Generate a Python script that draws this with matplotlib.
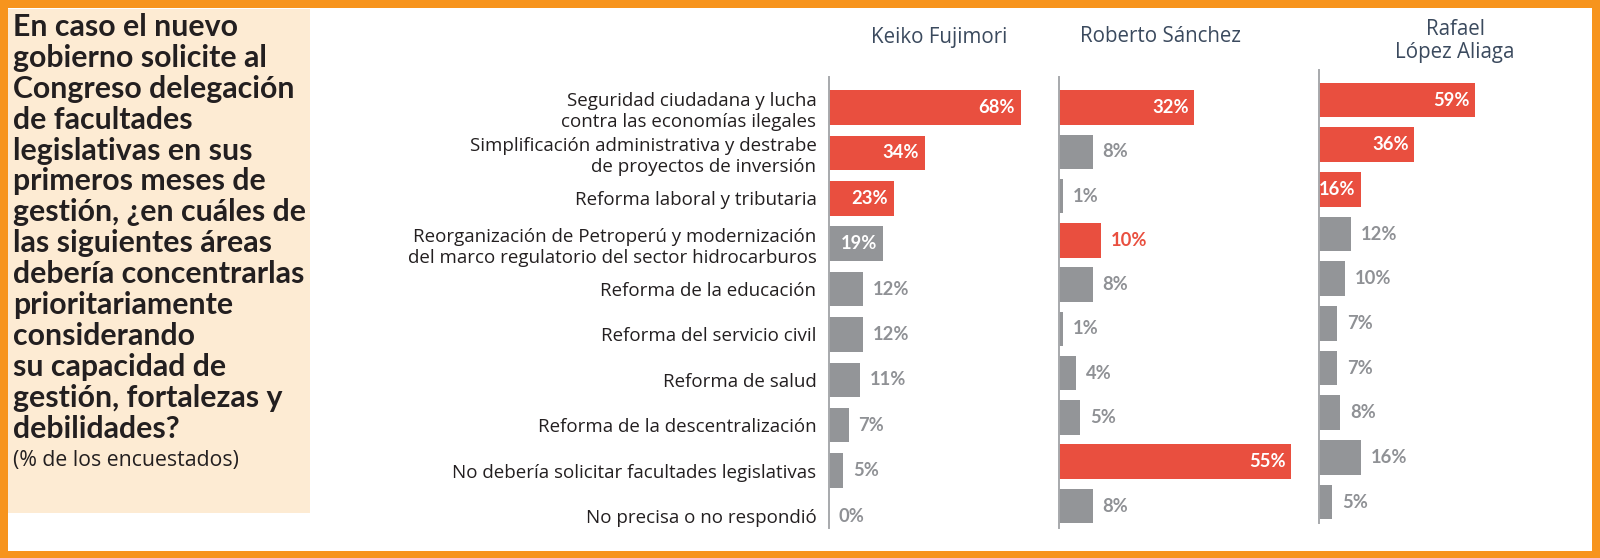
import matplotlib
matplotlib.use("Agg")
import matplotlib.pyplot as plt
from matplotlib.patches import Rectangle
import numpy as np

# ---------------- data ----------------
categories = [
    "Seguridad ciudadana y lucha\ncontra las economías ilegales",
    "Simplificación administrativa y destrabe\nde proyectos de inversión",
    "Reforma laboral y tributaria",
    "Reorganización de Petroperú y modernización\ndel marco regulatorio del sector hidrocarburos",
    "Reforma de la educación",
    "Reforma del servicio civil",
    "Reforma de salud",
    "Reforma de la descentralización",
    "No debería solicitar facultades legislativas",
    "No precisa o no respondió",
]
candidates = ["Keiko Fujimori", "Roberto Sánchez", "Rafael\nLópez Aliaga"]
keiko = [68, 34, 23, 19, 12, 12, 11, 7, 5, 0]
roberto = [32, 8, 1, 10, 8, 1, 4, 5, 55, 8]
rafael = [59, 36, 16, 12, 10, 7, 7, 8, 16, 5]
highlight_keiko = [0, 1, 2]
highlight_roberto = [0, 3, 8]
highlight_rafael = [0, 1, 2]

title_lines = [
    "En caso el nuevo", "gobierno solicite al", "Congreso delegación",
    "de facultades", "legislativas en sus", "primeros meses de",
    "gestión, ¿en cuáles de", "las siguientes áreas", "debería concentrarlas",
    "prioritariamente", "considerando", "su capacidad de",
    "gestión, fortalezas y", "debilidades?",
]
subtitle = "(% de los encuestados)"

# ---------------- style ----------------
RED = "#E94F3F"
GRAY = "#939598"
GRAYTXT = "#8F9195"
DARK = "#231F20"
TITLECOL = "#3B4A5E"
ORANGE = "#F7941D"
CREAM = "#FDEBD3"
FONT = ["Lato", "DejaVu Sans"]
FONT2 = ["Open Sans", "DejaVu Sans"]

W, H = 1600, 558
fig = plt.figure(figsize=(W / 100, H / 100), dpi=100)
fig.patch.set_facecolor("white")


def fx(x):
    return x / W


def fy(y):
    return 1 - y / H


# cream panel
fig.patches.append(Rectangle((fx(8), fy(513)), fx(310) - fx(8), fy(9) - fy(513),
                             transform=fig.transFigure, facecolor=CREAM,
                             edgecolor="none", zorder=0))
# orange frame
for (x0, y0, x1, y1) in [(0, 0, 1600, 8), (0, 551, 1600, 558), (0, 0, 8, 558), (1592, 0, 1600, 558)]:
    fig.patches.append(Rectangle((fx(x0), fy(y1)), fx(x1) - fx(x0), fy(y0) - fy(y1),
                                 transform=fig.transFigure, facecolor=ORANGE,
                                 edgecolor="none", zorder=5))

# left title
for i, line in enumerate(title_lines):
    fig.text(fx(13), fy(36 + i * 30.9), line, fontsize=21.8, fontweight="bold",
             family=FONT, color=DARK, ha="left", va="baseline")
fig.text(fx(13), fy(466), subtitle, fontsize=15.3, family=FONT2, color=DARK,
         ha="left", va="baseline")

# panels: (values, highlights, axis x, right x, px per %, axis top, axis bottom, row0 y, row9 y, inside-labels)
panels = [
    (keiko, highlight_keiko, 829, 1040, 2.82, 77, 528, 107.5, 516, [0, 1, 2, 3]),
    (roberto, highlight_roberto, 1059, 1300, 4.22, 77, 528, 107.7, 506, [0, 8]),
    (rafael, highlight_rafael, 1319, 1560, 2.64, 70, 523, 100, 502, [0, 1, 2]),
]
title_pos = [(939, 37), (1160, 36), (1455, 41)]

for p, (vals, hl, xa, xr, ppx, yt, yb, r0, r9, inside) in enumerate(panels):
    ax = fig.add_axes([fx(xa), fy(yb), (xr - xa) / W, (yb - yt) / H])
    step = (r9 - r0) / 9
    ax.set_xlim(0, (xr - xa) / ppx)
    ax.set_ylim(9 + (yb - r9) / step, -(r0 - yt) / step)
    ypos = np.arange(len(vals))
    colors = [RED if i in hl else GRAY for i in range(len(vals))]
    ax.barh(ypos, vals, height=34.5 / step, color=colors, edgecolor="none", zorder=2)
    for i, v in enumerate(vals):
        if i in inside:
            ax.annotate(f"{v}%", (v, i), xytext=(-4, 0), textcoords="offset points",
                        ha="right", va="center", color="white", fontsize=13.2,
                        fontweight="bold", family=FONT, zorder=3)
        else:
            col = RED if i in hl else GRAYTXT
            ax.annotate(f"{v}%", (v, i), xytext=(7, 0), textcoords="offset points",
                        ha="left", va="center", color=col, fontsize=13.2,
                        fontweight="bold", family=FONT, zorder=3)
    for s in ["top", "right", "bottom"]:
        ax.spines[s].set_visible(False)
    ax.spines["left"].set_color("#A7A9AC")
    ax.spines["left"].set_linewidth(1.4)
    ax.set_xticks([])
    ax.set_facecolor("none")
    if p == 0:
        ax.set_yticks(ypos)
        ax.set_yticklabels(categories, fontsize=13.5, family=FONT2, color=DARK,
                           linespacing=1.22)
        ax.tick_params(axis="y", length=0, pad=9)
    else:
        ax.set_yticks([])
    tx, ty = title_pos[p]
    fig.text(fx(tx), fy(ty), candidates[p], fontsize=14.8, family=FONT2, color=TITLECOL,
             ha="center", va="center", multialignment="center", linespacing=1.15)

fig.savefig("out.png", dpi=100, facecolor="white")
